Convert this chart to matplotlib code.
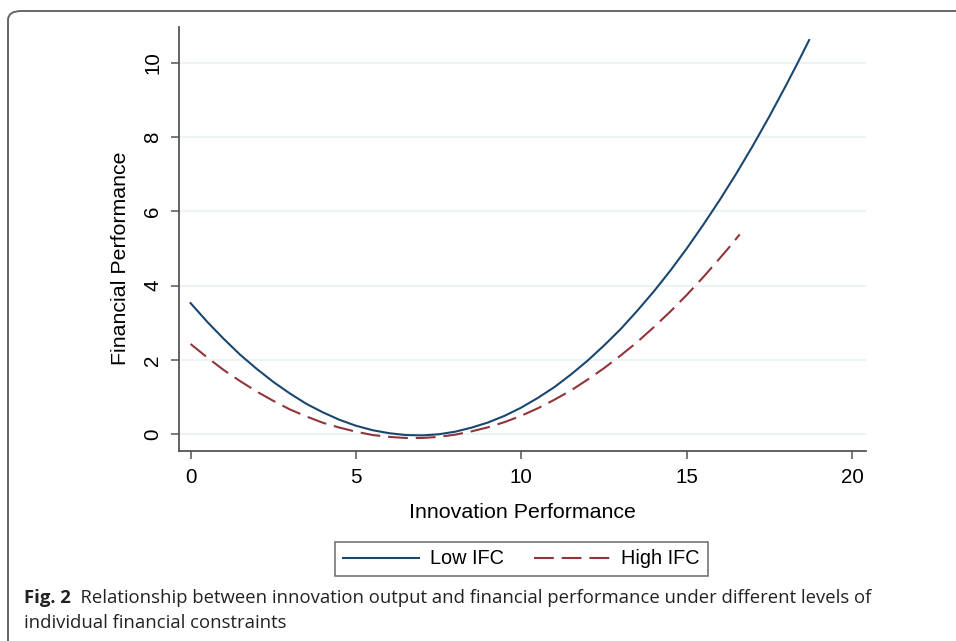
import matplotlib
matplotlib.use("Agg")
import matplotlib.pyplot as plt
from matplotlib.patches import FancyBboxPatch

# Data
low_x = [0, 0.5, 1, 1.5, 2, 2.5, 3, 3.5, 4, 4.5, 5, 5.5, 6, 6.5, 7, 7.5, 8, 8.5, 9, 9.5,
         10, 10.5, 11, 11.5, 12, 12.5, 13, 13.5, 14, 14.5, 15, 15.5, 16, 16.5, 17, 17.5,
         18, 18.35, 18.7]
low_y = [3.53, 3.03, 2.57, 2.14, 1.76, 1.41, 1.10, 0.82, 0.59, 0.39, 0.23, 0.11, 0.03,
         -0.02, -0.03, 0.00, 0.07, 0.18, 0.32, 0.50, 0.72, 0.98, 1.27, 1.61, 1.98, 2.39,
         2.83, 3.32, 3.84, 4.40, 5.00, 5.64, 6.31, 7.02, 7.77, 8.56, 9.39, 9.99, 10.61]
high_x = [0, 0.5, 1, 1.5, 2, 2.5, 3, 3.5, 4, 4.5, 5, 5.5, 6, 6.5, 7, 7.5, 8, 8.5, 9, 9.5,
          10, 10.5, 11, 11.5, 12, 12.5, 13, 13.5, 14, 14.5, 15, 15.5, 16, 16.3, 16.6]
high_y = [2.43, 2.07, 1.73, 1.43, 1.15, 0.90, 0.67, 0.48, 0.31, 0.18, 0.07, -0.02, -0.07,
          -0.10, -0.10, -0.07, -0.01, 0.08, 0.19, 0.33, 0.50, 0.70, 0.93, 1.18, 1.47, 1.78,
          2.12, 2.48, 2.88, 3.30, 3.75, 4.23, 4.74, 5.05, 5.38]
x_ticks = [0, 5, 10, 15, 20]
y_ticks = [0, 2, 4, 6, 8, 10]
series_labels = ["Low IFC", "High IFC"]
x_label = "Innovation Performance"
y_label = "Financial Performance"
caption_bold = "Fig. 2"
caption_rest = "  Relationship between innovation output and financial performance under different levels of"
caption_line2 = "individual financial constraints"

W, H = 956, 641
fig = plt.figure(figsize=(W / 100, H / 100), dpi=100)

def fx(px):
    return px / W

def fy(py):
    return 1 - py / H

# Outer frame (rounded top-left corner, runs off right/bottom)
frame = FancyBboxPatch((fx(8), fy(700)), fx(1100) - fx(8), fy(11) - fy(700),
                       boxstyle="round,pad=0,rounding_size=0.014",
                       transform=fig.transFigure, facecolor="none",
                       edgecolor="#666666", linewidth=1.4, clip_on=False)
fig.patches.append(frame)

left, right, top, bottom = 179, 865.7, 26.7, 451
ax = fig.add_axes([fx(left), fy(bottom), fx(right) - fx(left), fy(top) - fy(bottom)])

navy = "#1a476f"
maroon = "#90353b"
l1, = ax.plot(low_x, low_y, color=navy, lw=1.5, label=series_labels[0])
l2, = ax.plot(high_x, high_y, color=maroon, lw=1.5, dashes=(9.5, 3.8), label=series_labels[1])

ax.set_xlim(-0.35, 20.41)
ax.set_ylim(-0.45, 10.97)
ax.set_xticks(x_ticks)
ax.set_yticks(y_ticks)
for yt in y_ticks:
    ax.axhline(yt, color="#eaf2f3", lw=1.3, zorder=0)

for s in ["top", "right"]:
    ax.spines[s].set_visible(False)
for s in ["left", "bottom"]:
    ax.spines[s].set_color("#555555")
    ax.spines[s].set_linewidth(1.3)

font = "Liberation Sans"
ax.tick_params(axis="both", length=6, width=1.1, color="#555555",
               labelsize=14.8, labelcolor="black", pad=6)
for lab in ax.get_xticklabels() + ax.get_yticklabels():
    lab.set_fontfamily(font)
for lab in ax.get_yticklabels():
    lab.set_rotation(90)
    lab.set_va("center")

fig.text(fx(522), fy(512), x_label, ha="center", va="center",
         fontsize=15.4, family=font)
fig.text(fx(120), fy(258), y_label, ha="center", va="center",
         rotation=90, fontsize=15.4, family=font)

leg = fig.legend(handles=[l1, l2], loc="center", bbox_to_anchor=(fx(521.5), fy(559)),
                 ncol=2, frameon=True, fancybox=False, edgecolor="#444444",
                 prop={"family": font, "size": 14.3}, handlelength=3.8,
                 columnspacing=1.5, borderpad=0.4, handletextpad=0.6)
leg.get_frame().set_linewidth(1.1)

cap_font = "Open Sans"
cap_size = 13.3
t = fig.text(fx(24), fy(598), caption_bold, ha="left", va="center",
             fontsize=cap_size, family=cap_font, fontweight="bold", color="#222222")
fig.canvas.draw()
bb = t.get_window_extent()
fig.text(bb.x1 / W, fy(598), caption_rest, ha="left", va="center",
         fontsize=cap_size, family=cap_font, color="#222222")
fig.text(fx(24), fy(623), caption_line2, ha="left", va="center",
         fontsize=cap_size, family=cap_font, color="#222222")

fig.savefig("out.png", dpi=100)
